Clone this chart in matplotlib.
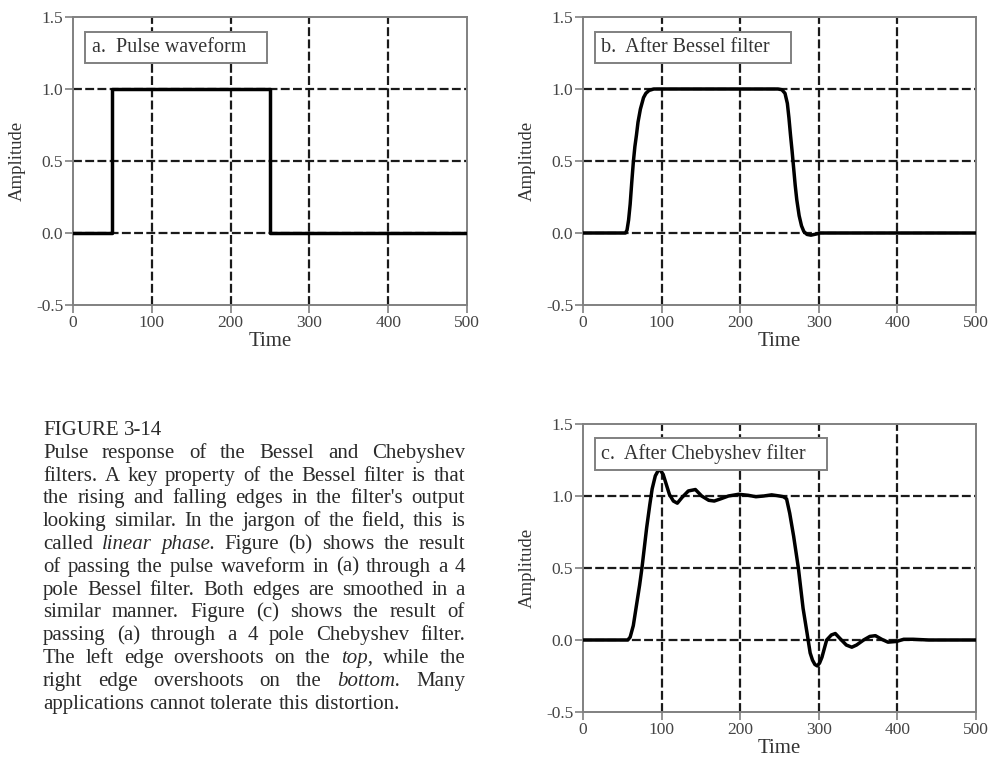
import matplotlib
matplotlib.use("Agg")
from matplotlib import pyplot as plt

plt.rcParams['font.family'] = ['Liberation Serif', 'DejaVu Serif']
plt.rcParams['axes.unicode_minus'] = False

# a. pulse waveform
pulse_t = [0, 50, 50, 250, 250, 500]
pulse_amp = [0, 0, 1, 1, 0, 0]

# b. after Bessel filter
bessel_t = [0, 54, 56, 58, 60, 62, 64, 66, 68, 70, 73, 77, 80, 84, 90,
            248, 253, 257, 260, 262, 264, 266, 268, 270, 272, 275, 278,
            281, 285, 290, 296, 302, 500]
bessel_amp = [0, 0, 0.02, 0.09, 0.2, 0.35, 0.49, 0.6, 0.68, 0.77, 0.86, 0.94,
              0.97, 0.99, 1.0,
              1.0, 0.995, 0.97, 0.9, 0.8, 0.68, 0.57, 0.45, 0.33, 0.23, 0.12,
              0.05, 0.01, -0.01, -0.015, -0.008, 0, 0]

# c. after Chebyshev filter
cheby_t = [0, 57, 60, 64, 68, 72, 75, 78, 81, 85, 88, 92, 97, 102, 106, 110,
           115, 120, 126, 134, 143, 151, 160, 167, 175, 185, 198, 210, 220,
           230, 240, 250, 255, 259, 263, 268, 274, 280, 285, 289, 292, 295,
           298, 301, 304, 307, 310, 316, 321, 327, 335, 342, 348, 357, 365,
           372, 380, 388, 399, 408, 420, 440, 500]
cheby_amp = [0, 0, 0.02, 0.1, 0.24, 0.38, 0.5, 0.64, 0.78, 0.94, 1.05, 1.14,
             1.19, 1.15, 1.08, 1.01, 0.965, 0.95, 0.99, 1.035, 1.045, 1.0, 0.97,
             0.965, 0.98, 1.0, 1.012, 1.005, 0.995, 1.0, 1.008, 1.0, 0.995,
             0.98, 0.88, 0.72, 0.5, 0.22, 0.05, -0.09, -0.14, -0.17, -0.18,
             -0.16, -0.12, -0.06, 0, 0.035, 0.045, 0.01, -0.035, -0.05, -0.035,
             0, 0.025, 0.03, 0.005, -0.015, -0.01, 0.005, 0.005, 0, 0]

x_ticks = [0, 100, 200, 300, 400, 500]
y_ticks = [-0.5, 0.0, 0.5, 1.0, 1.5]
x_grid = [100, 200, 300, 400]
y_grid = [0.0, 0.5, 1.0]

caption = [
    "FIGURE 3-14",
    "Pulse response of the Bessel and Chebyshev",
    "filters. A key property of the Bessel filter is that",
    "the rising and falling edges in the filter's output",
    "looking similar. In the jargon of the field, this is",
    "called _linear_ _phase_.  Figure (b) shows the result",
    "of passing the pulse waveform in (a) through a 4",
    "pole Bessel filter.  Both edges are smoothed in a",
    "similar manner.  Figure (c) shows the result of",
    "passing (a) through a 4 pole Chebyshev filter.",
    "The left edge overshoots on the _top_, while the",
    "right edge overshoots on the _bottom_. Many",
    "applications cannot tolerate this distortion.",
]

W, H = 989, 758
GRAY = '#808080'


def px_rect(left, top, right, bottom):
    return [left / W, 1 - bottom / H, (right - left) / W, (bottom - top) / H]


def draw_panel(fig, rect, t, amp, label):
    ax = fig.add_axes(rect)
    ax.set_xlim(0, 500)
    ax.set_ylim(-0.5, 1.5)
    ax.set_xticks(x_ticks)
    ax.set_yticks(y_ticks)
    ax.set_yticklabels(['-0.5', '0.0', '0.5', '1.0', '1.5'])
    for gx in x_grid:
        ax.axvline(gx, color='#1a1a1a', lw=1.6, ls=(0, (4, 1.5)), zorder=1)
    for gy in y_grid:
        ax.axhline(gy, color='#1a1a1a', lw=1.6, ls=(0, (4, 1.5)), zorder=1)
    ax.plot(t, amp, color='k', lw=2.5, zorder=3, solid_joinstyle='round')
    for s in ax.spines.values():
        s.set_color(GRAY)
        s.set_linewidth(1.4)
    ax.tick_params(direction='out', length=6, width=1.2, color=GRAY,
                   labelsize=12.5, labelcolor='#444444', pad=1)
    ax.set_xlabel('Time', fontsize=15, color='#333333', labelpad=1)
    ax.set_ylabel('Amplitude', fontsize=13.5, color='#333333', labelpad=7)
    ax.text(0.047, 0.895, label, transform=ax.transAxes, fontsize=14.5,
            color='#333333', va='center', ha='left', zorder=5,
            bbox=dict(boxstyle='square,pad=0.3', fc='white', ec=GRAY, lw=1.4))
    return ax


def draw_caption(fig, lines, x0, x1, y0, dy, size):
    renderer = fig.canvas.get_renderer()
    space = 0.25 * size * fig.dpi / 72
    for i, line in enumerate(lines):
        words = line.split()
        arts = []
        for w in words:
            style = 'normal'
            if w.startswith('_'):
                style = 'italic'
                w = w.replace('_', '')
            arts.append(fig.text(0, 1 - (y0 + dy * i) / H, w, fontsize=size,
                                 style=style, color='#2a2a2a', va='baseline'))
        widths = [a.get_window_extent(renderer).width for a in arts]
        justify = 0 < i < len(lines) - 1 and len(words) > 1
        if justify:
            gap = (x1 - x0 - sum(widths)) / (len(words) - 1)
        else:
            gap = space
        x = x0
        for a, wd in zip(arts, widths):
            a.set_x(x / W)
            x += wd + gap


def main():
    fig = plt.figure(figsize=(W / 100, H / 100), dpi=100)

    draw_panel(fig, px_rect(73, 17, 467, 305), pulse_t, pulse_amp,
               'a.  Pulse waveform   ')
    draw_panel(fig, px_rect(583, 17, 976, 305), bessel_t, bessel_amp,
               'b.  After Bessel filter   ')
    draw_panel(fig, px_rect(583, 424, 976, 712), cheby_t, cheby_amp,
               'c.  After Chebyshev filter   ')

    draw_caption(fig, caption, 43, 465, 435, 22.8, 15)

    fig.savefig('out.png', dpi=100)


if __name__ == "__main__":
    main()
